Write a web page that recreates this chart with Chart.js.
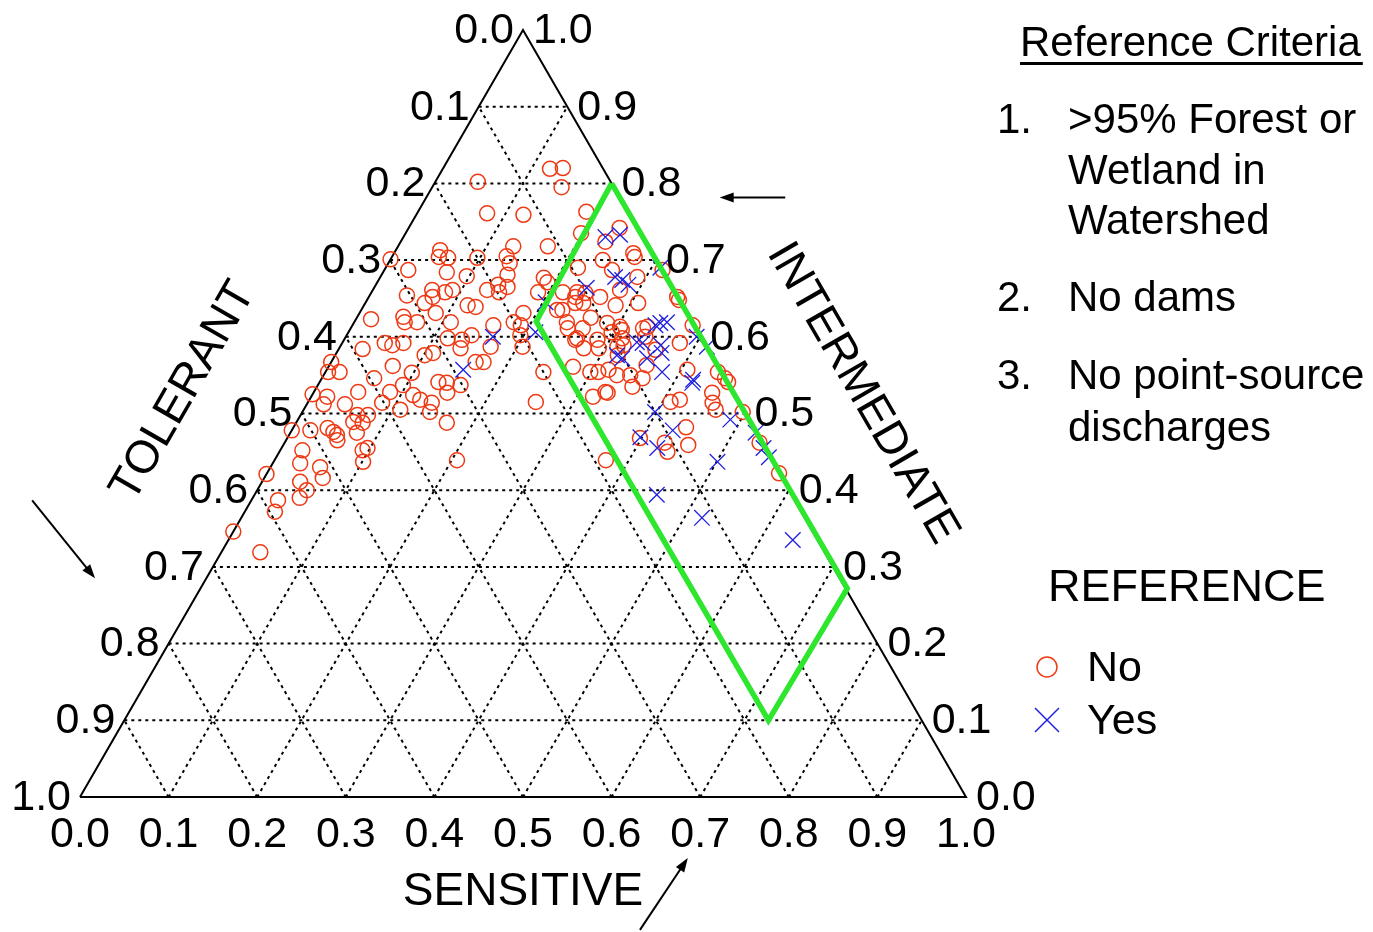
<!DOCTYPE html>
<html>
<head>
<meta charset="utf-8">
<title>Ternary plot - reference sites</title>
<script src="https://cdn.jsdelivr.net/npm/chart.js@4.4.1/dist/chart.umd.min.js"></script>
<style>
  body { margin: 0; background: #fff; }
  #wrap { position: relative; width: 1373px; height: 932px; }
</style>
</head>
<body>
<div id="wrap"><canvas id="chart"></canvas></div>
<script>
// Ternary data: sensitive + intermediate + tolerant = 1
const tickValues = [0, 0.1, 0.2, 0.3, 0.4, 0.5, 0.6, 0.7, 0.8, 0.9, 1.0];

// REFERENCE = No (circles)
const noSensitive = [
  0.121, 0.135, 0.146, 0.048, 0.079, 0.121, 0.190, 0.198, 0.169, 0.130,
  0.129, 0.137, 0.050, 0.053, 0.064, 0.072, 0.097, 0.097, 0.067, 0.090,
  0.083, 0.129, 0.138, 0.150, 0.142, 0.144, 0.185, 0.192, 0.216, 0.217,
  0.240, 0.257, 0.279, 0.232, 0.188, 0.000, 0.027, 0.042, 0.072, 0.067,
  0.017, 0.052, 0.057, 0.071, 0.027, 0.048, 0.058, 0.069, 0.000, 0.003,
  0.016, 0.072, 0.059, 0.098, 0.096, 0.086, 0.114, 0.000, 0.018, 0.019,
  0.043, 0.050, 0.084, 0.109, 0.064, 0.076, 0.064, 0.075, 0.000, 0.021,
  0.039, 0.048, 0.054, 0.075, 0.097, 0.025, 0.086, 0.109, 0.117, 0.127,
  0.159, 0.180, 0.190, 0.185, 0.221, 0.237, 0.246, 0.284, 0.264, 0.245,
  0.262, 0.286, 0.276, 0.313, 0.116, 0.133, 0.141, 0.137, 0.109, 0.101,
  0.170, 0.163, 0.172, 0.206, 0.196, 0.246, 0.276, 0.299, 0.308, 0.331,
  0.134, 0.144, 0.151, 0.161, 0.140, 0.144, 0.125, 0.257, 0.318, 0.332,
  0.170, 0.274, 0.233, 0.242, 0.261, 0.308, 0.290, 0.348, 0.352, 0.240,
  0.286, 0.262, 0.261, 0.297, 0.307, 0.313, 0.319, 0.330, 0.338, 0.381,
  0.384, 0.227, 0.293, 0.238, 0.231, 0.270, 0.314, 0.303, 0.334, 0.319,
  0.318, 0.346, 0.362, 0.329, 0.356, 0.407, 0.450, 0.457, 0.465, 0.443,
  0.455, 0.461, 0.409, 0.418, 0.443, 0.457, 0.429, 0.438, 0.398, 0.497,
  0.536, 0.578, 0.374, 0.358, 0.358, 0.000, 0.031, 0.056, 0.066, 0.093,
  0.101, 0.043, 0.056, 0.053, 0.030, 0.034, 0.000, 0.044, 0.058, 0.206
];
const noIntermediate = [
  0.819, 0.820, 0.795, 0.802, 0.761, 0.759, 0.763, 0.735, 0.718, 0.718,
  0.705, 0.696, 0.713, 0.704, 0.703, 0.684, 0.703, 0.679, 0.661, 0.661,
  0.658, 0.661, 0.668, 0.665, 0.681, 0.658, 0.677, 0.671, 0.658, 0.690,
  0.700, 0.687, 0.661, 0.658, 0.658, 0.701, 0.687, 0.654, 0.652, 0.644,
  0.623, 0.626, 0.619, 0.619, 0.584, 0.592, 0.589, 0.592, 0.567, 0.554,
  0.554, 0.562, 0.546, 0.553, 0.537, 0.528, 0.524, 0.525, 0.522, 0.512,
  0.512, 0.528, 0.514, 0.505, 0.498, 0.498, 0.489, 0.488, 0.478, 0.478,
  0.481, 0.476, 0.472, 0.475, 0.455, 0.452, 0.631, 0.619, 0.641, 0.639,
  0.615, 0.619, 0.615, 0.631, 0.635, 0.644, 0.644, 0.641, 0.625, 0.611,
  0.598, 0.596, 0.585, 0.587, 0.598, 0.596, 0.602, 0.585, 0.579, 0.576,
  0.587, 0.567, 0.567, 0.587, 0.602, 0.554, 0.561, 0.554, 0.554, 0.550,
  0.541, 0.540, 0.527, 0.537, 0.514, 0.502, 0.518, 0.515, 0.522, 0.527,
  0.488, 0.704, 0.652, 0.657, 0.652, 0.644, 0.678, 0.652, 0.648, 0.619,
  0.618, 0.611, 0.596, 0.606, 0.609, 0.598, 0.589, 0.611, 0.600, 0.592,
  0.615, 0.635, 0.585, 0.742, 0.724, 0.709, 0.687, 0.613, 0.613, 0.576,
  0.557, 0.550, 0.546, 0.528, 0.535, 0.557, 0.527, 0.514, 0.505, 0.554,
  0.546, 0.541, 0.515, 0.518, 0.482, 0.459, 0.462, 0.450, 0.468, 0.502,
  0.462, 0.422, 0.439, 0.583, 0.563, 0.421, 0.435, 0.430, 0.416, 0.452,
  0.437, 0.411, 0.400, 0.390, 0.387, 0.372, 0.346, 0.319, 0.465, 0.439
];

// REFERENCE = Yes (crosses)
const yesSensitive = [
  0.228, 0.243, 0.265, 0.275, 0.285, 0.240, 0.310, 0.342, 0.346, 0.353,
  0.332, 0.339, 0.361, 0.396, 0.414, 0.326, 0.354, 0.367, 0.380, 0.421,
  0.420, 0.398, 0.430, 0.424, 0.488, 0.525, 0.544, 0.556, 0.501, 0.166,
  0.211, 0.154, 0.203, 0.318, 0.454, 0.520, 0.637, 0.398
];
const yesIntermediate = [
  0.730, 0.733, 0.678, 0.674, 0.668, 0.664, 0.690, 0.615, 0.618, 0.619,
  0.593, 0.592, 0.589, 0.600, 0.587, 0.572, 0.572, 0.579, 0.554, 0.540,
  0.544, 0.502, 0.478, 0.455, 0.492, 0.475, 0.455, 0.443, 0.437, 0.600,
  0.606, 0.557, 0.645, 0.576, 0.394, 0.364, 0.335, 0.469
];

// green region (reference envelope)
const boxSensitive = [0.20, 0.205, 0.727, 0.73, 0.20];
const boxIntermediate = [0.80, 0.62, 0.10, 0.272, 0.80];

const criteriaLines = [
  ["1.", ">95% Forest or"],
  ["", "Wetland in"],
  ["", "Watershed"],
  ["2.", "No dams"],
  ["3.", "No point-source"],
  ["", "discharges"]
];

const H = Math.sqrt(3) / 2;
const FONT = '"Liberation Sans", Arial, Helvetica, sans-serif';

// ternary -> cartesian
function toXY(s, i) {
  return { x: s + i / 2, y: i * H };
}

const lineStyle = {
  type: "line",
  showLine: true,
  fill: false,
  pointRadius: 0,
  tension: 0,
  clip: false,
};

const datasets = [];

// green envelope on top
datasets.push({
  ...lineStyle,
  data: boxSensitive.map((s, k) => toXY(s, boxIntermediate[k])),
  borderColor: "#2ee62e",
  borderWidth: 5.5,
  borderJoinStyle: "miter",
  order: 0,
});

datasets.push({
  type: "scatter",
  data: yesSensitive.map((s, k) => toXY(s, yesIntermediate[k])),
  pointStyle: "crossRot",
  pointRadius: 11,
  borderColor: "#1f1fe0",
  borderWidth: 1.3,
  clip: false,
  order: 1,
});

datasets.push({
  type: "scatter",
  data: noSensitive.map((s, k) => toXY(s, noIntermediate[k])),
  pointStyle: "circle",
  pointRadius: 7.5,
  backgroundColor: "rgba(0,0,0,0)",
  borderColor: "#ee3a14",
  borderWidth: 1.5,
  clip: false,
  order: 2,
});

// triangle outline
datasets.push({
  ...lineStyle,
  data: [toXY(0, 0), toXY(1, 0), toXY(0, 1), toXY(0, 0)],
  borderColor: "#000",
  borderWidth: 2,
  order: 3,
});

// dotted grid
tickValues.slice(1, -1).forEach((k) => {
  const segs = [
    [toXY(0, k), toXY(1 - k, k)],
    [toXY(k, 0), toXY(k, 1 - k)],
    [toXY(1 - k, 0), toXY(0, 1 - k)],
  ];
  segs.forEach((seg) => {
    datasets.push({
      ...lineStyle,
      data: seg,
      borderColor: "#000",
      borderWidth: 2,
      borderDash: [3, 4],
      order: 4,
    });
  });
});

function drawArrow(ctx, x1, y1, x2, y2) {
  const ang = Math.atan2(y2 - y1, x2 - x1);
  ctx.save();
  ctx.strokeStyle = "#000";
  ctx.fillStyle = "#000";
  ctx.lineWidth = 2;
  ctx.beginPath();
  ctx.moveTo(x1, y1);
  ctx.lineTo(x2 - Math.cos(ang) * 8, y2 - Math.sin(ang) * 8);
  ctx.stroke();
  ctx.beginPath();
  ctx.moveTo(x2, y2);
  ctx.lineTo(x2 - 14 * Math.cos(ang) + 5 * Math.sin(ang), y2 - 14 * Math.sin(ang) - 5 * Math.cos(ang));
  ctx.lineTo(x2 - 14 * Math.cos(ang) - 5 * Math.sin(ang), y2 - 14 * Math.sin(ang) + 5 * Math.cos(ang));
  ctx.closePath();
  ctx.fill();
  ctx.restore();
}

const labelPlugin = {
  id: "ternaryLabels",
  afterDraw(chart) {
    const ctx = chart.ctx;
    const sx = chart.scales.x;
    const sy = chart.scales.y;
    const px = (s, i) => {
      const p = toXY(s, i);
      return { x: sx.getPixelForValue(p.x), y: sy.getPixelForValue(p.y) };
    };
    const pv = (x, y) => ({ x: sx.getPixelForValue(x), y: sy.getPixelForValue(y) });

    ctx.save();
    ctx.fillStyle = "#000";
    ctx.font = "43px " + FONT;
    ctx.textBaseline = "middle";

    tickValues.forEach((k) => {
      const txt = k.toFixed(1);
      // sensitive (bottom)
      let p = px(k, 0);
      ctx.textAlign = "center";
      ctx.fillText(txt, p.x, p.y + 38);
      // tolerant (left)
      p = px(0, 1 - k);
      ctx.textAlign = "right";
      ctx.fillText(txt, p.x - 9, p.y + 1);
      // intermediate (right)
      p = px(1 - k, k);
      ctx.textAlign = "left";
      ctx.fillText(txt, p.x + 10, p.y + 1);
    });

    // axis titles
    ctx.font = "46px " + FONT;
    ctx.textAlign = "center";
    let c = px(0.5, 0);
    ctx.fillText("SENSITIVE", c.x, c.y + 95);

    c = px(0, 0.5);
    ctx.save();
    ctx.translate(c.x - 118, c.y - 22);
    ctx.rotate(-Math.PI / 3);
    ctx.fillText("TOLERANT", 0, 0);
    ctx.restore();

    c = px(0.5, 0.5);
    ctx.save();
    ctx.translate(c.x + 118, c.y - 20);
    ctx.rotate(Math.PI / 3);
    ctx.fillText("INTERMEDIATE", 0, 0);
    ctx.restore();

    // reading-direction arrows
    let a = pv(0.796, 0.677), b = pv(0.722, 0.677);
    drawArrow(ctx, a.x, a.y, b.x, b.y);
    a = pv(-0.054, 0.335); b = pv(0.017, 0.247);
    drawArrow(ctx, a.x, a.y, b.x, b.y);
    a = pv(0.632, -0.150); b = pv(0.686, -0.069);
    drawArrow(ctx, a.x, a.y, b.x, b.y);

    // criteria block
    ctx.font = "42px " + FONT;
    ctx.textAlign = "left";
    ctx.fillText("Reference Criteria", 1020, 44);
    const w = ctx.measureText("Reference Criteria").width;
    ctx.fillRect(1020, 62, w + 2, 3);
    const rows = [121, 172, 222, 299, 377, 429];
    criteriaLines.forEach((ln, k) => {
      if (ln[0]) ctx.fillText(ln[0], 997, rows[k]);
      ctx.fillText(ln[1], 1068, rows[k]);
    });

    // legend
    ctx.font = "45px " + FONT;
    ctx.fillText("REFERENCE", 1048, 589);
    ctx.font = "43px " + FONT;
    ctx.fillText("No", 1087, 669);
    ctx.fillText("Yes", 1087, 722);
    ctx.strokeStyle = "#ee3a14";
    ctx.lineWidth = 1.5;
    ctx.beginPath();
    ctx.arc(1047, 667, 10, 0, Math.PI * 2);
    ctx.stroke();
    ctx.strokeStyle = "#1f1fe0";
    ctx.beginPath();
    ctx.moveTo(1035, 708); ctx.lineTo(1059, 732);
    ctx.moveTo(1059, 708); ctx.lineTo(1035, 732);
    ctx.stroke();
    ctx.restore();
  },
};

new Chart(document.getElementById("chart"), {
  type: "scatter",
  data: { datasets: datasets },
  options: {
    responsive: true,
    maintainAspectRatio: false,
    animation: false,
    events: [],
    layout: { padding: { left: 80, right: 407, top: 30, bottom: 135 } },
    scales: {
      x: { type: "linear", min: 0, max: 1, display: false },
      y: { type: "linear", min: 0, max: H, display: false },
    },
    plugins: {
      legend: { display: false },
      tooltip: { enabled: false },
    },
  },
  plugins: [labelPlugin],
});
</script>
</body>
</html>
